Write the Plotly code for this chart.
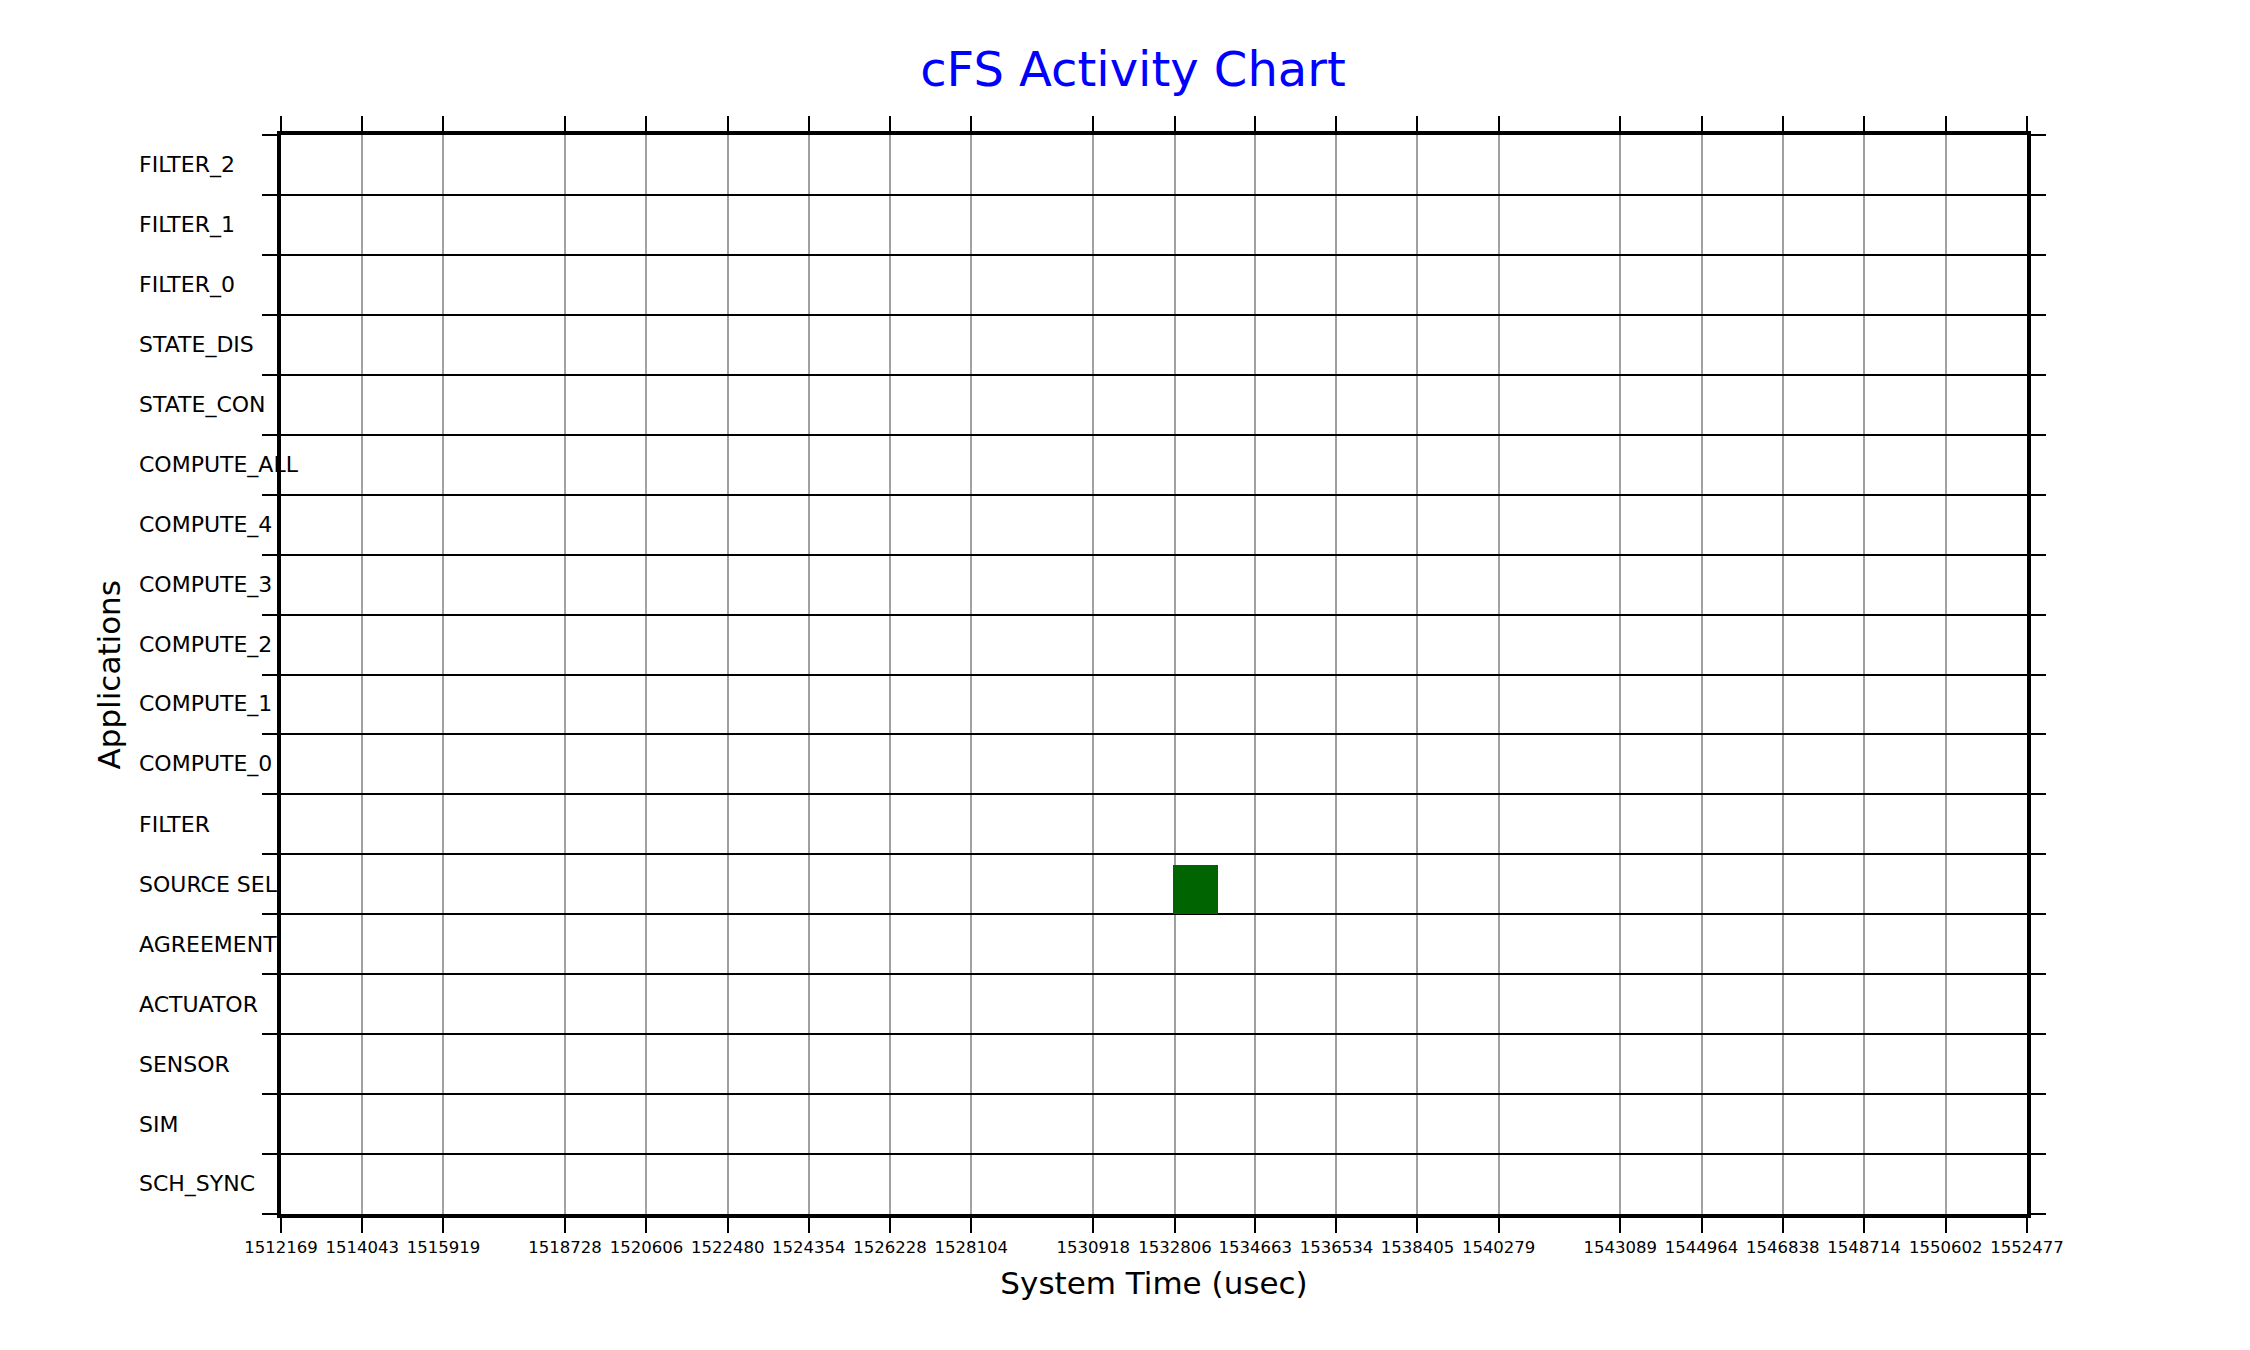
import plotly.graph_objects as go

apps = ["SCH_SYNC", "SIM", "SENSOR", "ACTUATOR", "AGREEMENT", "SOURCE SEL", "FILTER",
        "COMPUTE_0", "COMPUTE_1", "COMPUTE_2", "COMPUTE_3", "COMPUTE_4", "COMPUTE_ALL",
        "STATE_CON", "STATE_DIS", "FILTER_0", "FILTER_1", "FILTER_2"]
x_ticks = [1512169, 1514043, 1515919, 1518728, 1520606, 1522480, 1524354, 1526228, 1528104,
           1530918, 1532806, 1534663, 1536534, 1538405, 1540279, 1543089, 1544964, 1546838,
           1548714, 1550602, 1552477]
act_app = ["SOURCE SEL"]
act_start = [1532760]
act_end = [1533800]

fig = go.Figure()
idx = [apps.index(a) for a in act_app]
fig.add_trace(go.Bar(
    orientation="h", base=act_start, x=[e - s for s, e in zip(act_start, act_end)],
    y=[i + 0.415 for i in idx], width=0.83, marker=dict(color="#006400", line=dict(width=0)),
    showlegend=False))

for i, a in enumerate(apps):
    fig.add_annotation(x=-0.0826, xref="paper", y=i + 0.5, yref="y", text=a, showarrow=False,
                       xanchor="left", font=dict(size=22, color="black"))
fig.add_annotation(x=-0.11, xref="paper", y=0.5, yref="paper", text="Applications", textangle=-90,
                   showarrow=False, font=dict(size=31, color="black"))

fig.update_layout(
    width=2250, height=1350, plot_bgcolor="white", paper_bgcolor="white",
    font=dict(family="DejaVu Sans", color="black"),
    margin=dict(l=273, r=231, t=127, b=144),
    title=dict(text="cFS Activity Chart", x=0.5, xanchor="center", y=0.955, yanchor="middle",
               font=dict(size=48, color="blue")),
    bargap=0,
)
fig.update_xaxes(range=[x_ticks[0], x_ticks[-1]], tickvals=x_ticks, ticktext=[str(v) for v in x_ticks],
                 tickfont=dict(size=16.5), showgrid=True, gridcolor="#a0a0a0", gridwidth=2,
                 ticks="outside", ticklen=15, tickwidth=2, tickcolor="black",
                 showline=True, linecolor="black", linewidth=4, mirror="ticks", zeroline=False,
                 title=dict(text="System Time (usec)", font=dict(size=31), standoff=18))
fig.update_yaxes(range=[0, 18], tickvals=list(range(19)), showticklabels=False,
                 showgrid=True, gridcolor="black", gridwidth=2,
                 ticks="outside", ticklen=15, tickwidth=2, tickcolor="black",
                 showline=True, linecolor="black", linewidth=4, mirror="ticks", zeroline=False)
fig.write_html("out.html")
